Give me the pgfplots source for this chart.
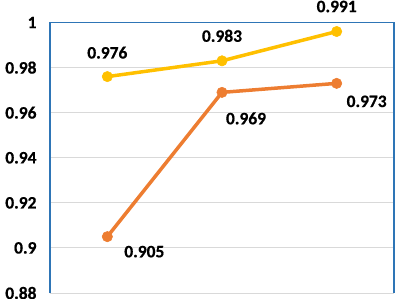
\documentclass[border=0pt]{standalone}
\usepackage{pgfplots}
\pgfplotsset{compat=1.18}
\usepackage{fontspec}
\setmainfont{Carlito}[BoldFeatures={FakeBold=0.6}]
\definecolor{cyellow}{HTML}{FFC000}
\definecolor{corange}{HTML}{ED7D31}
\definecolor{cframe}{HTML}{2E75B6}
\definecolor{cgrid}{HTML}{D9D9D9}
\begin{document}
\begin{tikzpicture}
\begin{axis}[
  name=ax,
  scale only axis,
  width=344bp, height=270.5bp,
  xmin=0, xmax=3,
  ymin=0.88, ymax=1,
  ytick={0.88,0.9,0.92,0.94,0.96,0.98,1},
  xtick=\empty,
  ymajorgrids,
  grid style={cgrid, line width=1bp},
  axis line style={draw=none},
  major tick length=0pt,
  /pgf/number format/assume math mode=true,
  /pgf/number format/fixed,
  /pgf/number format/precision=2,
  yticklabel style={font=\fontsize{17.5}{20}\selectfont\bfseries, anchor=east, xshift=-10bp},
  clip=false,
  nodes near coords,
  point meta=explicit symbolic,
  visualization depends on={\thisrow{dx} \as \dx},
  visualization depends on={\thisrow{dy} \as \dy},
  nodes near coords style={font=\fontsize{17.5}{20}\selectfont\bfseries, black, anchor=center, xshift=\dx bp, yshift=\dy bp},
]
\addplot[color=cyellow, line width=3.5bp, mark=*, mark size=5.2bp, mark options={fill=cyellow, draw=cyellow, line width=0.5bp}]
  table[x=x, y=y, meta=lab] {
x y lab dx dy
0.5 0.976 0.976 0 24
1.5 0.983 0.983 0 25
2.5 0.996 0.991 0 25
};
\addplot[color=corange, line width=3.5bp, mark=*, mark size=5.2bp, mark options={fill=corange, draw=corange, line width=0.5bp}]
  table[x=x, y=y, meta=lab] {
x y lab dx dy
0.5 0.905 0.905 37 -15
1.5 0.969 0.969 24 -26
2.5 0.973 0.973 30 -18
};
\end{axis}
\draw[cframe, line width=1.2bp] (ax.south west) -- (ax.north west) -- (ax.north east) -- (ax.south east);
\pgfresetboundingbox
\path[use as bounding box] ([xshift=-50bp, yshift=-6bp]ax.south west) rectangle ([xshift=2bp, yshift=22.5bp]ax.north east);
\end{tikzpicture}
\end{document}
